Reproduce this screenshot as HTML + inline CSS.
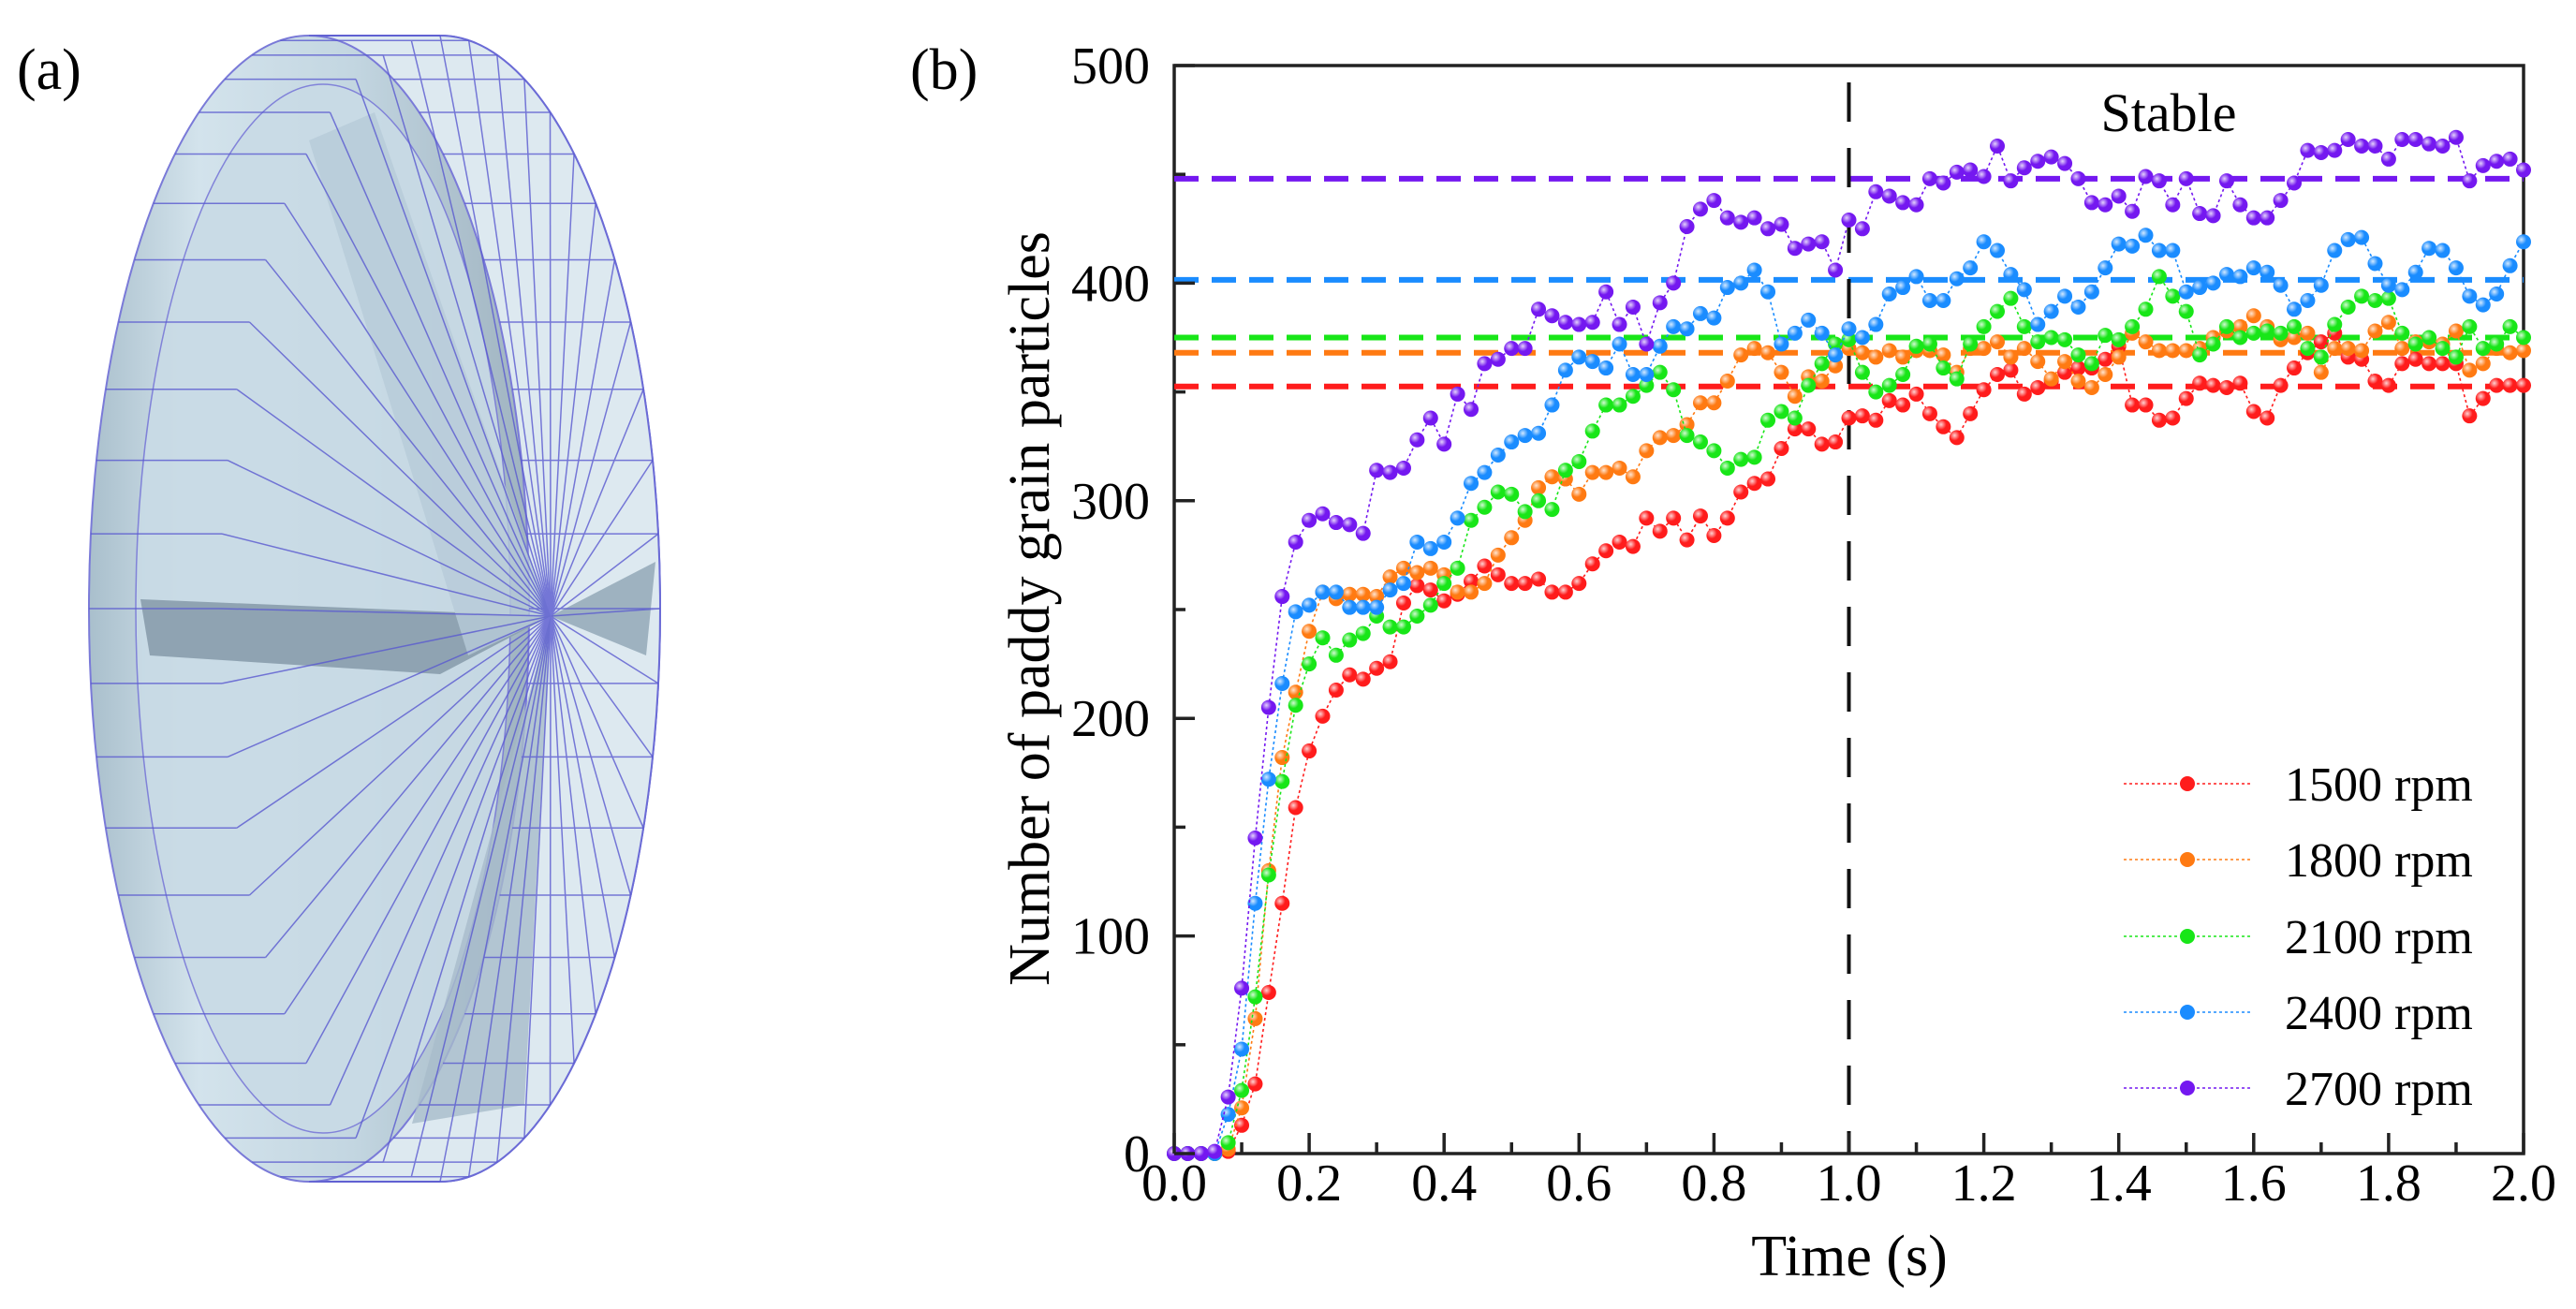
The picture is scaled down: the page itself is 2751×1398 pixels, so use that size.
<!DOCTYPE html>
<html><head><meta charset="utf-8"><style>
html,body{margin:0;padding:0;background:#fff;}
svg{display:block;font-family:"Liberation Serif",serif;}
</style></head><body>
<svg id="fig" width="2751" height="1398" viewBox="0 0 2751 1398" xmlns="http://www.w3.org/2000/svg">
<defs>
<linearGradient id="faceG" x1="0" y1="0" x2="1" y2="0">
<stop offset="0" stop-color="#a9bfcc"/><stop offset="0.25" stop-color="#d3e3ec"/><stop offset="0.6" stop-color="#c3d6e1"/><stop offset="1" stop-color="#9fb3c0"/></linearGradient>
<radialGradient id="ball" cx="0.35" cy="0.35" r="0.7"><stop offset="0" stop-color="#fff" stop-opacity="0.8"/><stop offset="0.5" stop-color="#fff" stop-opacity="0"/></radialGradient>
</defs>
<g id="panelA">
<text x="18" y="95" font-size="62">(a)</text>
<ellipse cx="470" cy="650" rx="235" ry="612" fill="none" stroke="#6b6bd6" stroke-width="2"/>
<path d="M330 38 L470 38 A235 612 0 0 1 470 1262 L330 1262 Z" fill="#dde9f0" stroke="#6b6bd6" stroke-width="2"/>
<ellipse cx="330" cy="650" rx="235" ry="612" fill="url(#faceG)" stroke="#7a7ad8" stroke-width="2"/>
<ellipse cx="345" cy="650" rx="200" ry="560" fill="#c9dbe6" stroke="#7a7ad8" stroke-width="1.5" opacity="0.9"/>
<polygon points="150,640 588,658 470,720 160,700" fill="#8fa3b2"/>
<polygon points="588,658 700,600 690,700" fill="#9eb2c0"/>
<polygon points="400,120 588,658 500,700 330,150" fill="#b7cbd8" opacity="0.8"/>
<polygon points="588,658 560,1180 440,1200" fill="#a8bccb" opacity="0.8"/>
<g id="spokes" stroke="#5a5ad0" stroke-width="1.5" opacity="0.8"></g>
</g>
<g id="chart">
<text x="972" y="95" font-size="62">(b)</text>
</g>
</svg>
<script>
const NS="http://www.w3.org/2000/svg";
function mk(tag,attrs,parent){const e=document.createElementNS(NS,tag);for(const k in attrs)e.setAttribute(k,attrs[k]);parent.appendChild(e);return e;}
const sp=document.getElementById('spokes');
for(let i=0;i<48;i++){const a=i/48*Math.PI*2;
const l=mk('line',{x1:588,y1:658,x2:470+235*Math.cos(a),y2:650+612*Math.sin(a)},sp);


const l2=mk('line',{x1:330+235*Math.cos(a),y1:650+612*Math.sin(a),x2:470+235*Math.cos(a),y2:650+612*Math.sin(a)},sp);

}

const seriesNames=["1500 rpm","1800 rpm","2100 rpm","2400 rpm","2700 rpm"];
const seriesColors=["#ff1c1c","#ff7a12","#18e618","#1a8cff","#7418f0"];
const meanValues=[352.5,368,375,401.5,448];
const xTicks=["0.0","0.2","0.4","0.6","0.8","1.0","1.2","1.4","1.6","1.8","2.0"];
const yTicks=["0","100","200","300","400","500"];
const timeStep=0.02;
const s1500=[0,0,0,0,1,13,32,74,115,159,185,201,213,220,218,223,226,253,261,259,254,257,263,270,266,262,262,264,258,258,262,271,277,281,279,292,286,292,282,293,284,292,304,308,310,324,333,333,326,327,
338,339,337,346,344,349,340,334,329,340,351,358,360,349,352,355,359,361,361,365,371,344,344,337,338,347,354,353,352,354,341,338,353,361,368,373,377,366,365,355,353,363,365,363,363,363,339,347,353,353,353];
const s1800=[0,0,0,0,2,21,62,130,182,212,240,258,255,257,257,256,265,269,267,269,266,258,258,262,275,283,291,306,311,310,303,313,313,315,311,323,329,330,335,345,345,355,367,370,368,359,348,357,355,362,
370,368,366,369,366,369,369,367,359,370,370,373,366,370,364,356,364,355,352,358,366,377,373,369,369,369,370,375,378,380,385,380,374,375,377,359,370,370,369,378,382,370,373,373,372,378,360,363,370,368,369];
const s2100=[0,0,0,0,5,29,72,128,171,206,225,237,229,236,239,247,242,242,247,252,262,269,291,297,304,303,295,300,296,314,318,332,344,344,348,353,359,351,330,327,323,315,319,320,337,341,338,353,363,372,
374,359,350,353,358,371,372,361,356,372,380,387,393,380,373,375,374,367,363,376,374,380,388,403,394,387,367,372,380,375,377,378,377,380,370,366,381,389,394,392,393,377,372,375,370,366,380,370,372,380,375];
const s2400=[0,0,0,0,18,48,115,172,216,249,252,258,258,251,251,251,259,262,281,278,281,292,308,313,321,327,330,331,344,360,366,364,361,372,358,358,371,380,379,386,384,398,400,406,396,372,377,383,377,367,
379,375,381,395,398,403,392,392,402,407,419,415,404,397,381,387,394,389,396,407,418,417,422,415,415,396,398,400,404,403,407,405,399,388,392,399,415,420,421,409,399,397,405,416,415,407,394,390,395,408,419];
const s2700=[0,0,0,1,26,76,145,205,256,281,291,294,290,289,285,314,313,315,328,338,326,349,342,363,365,370,370,388,385,382,381,382,396,381,389,372,391,400,426,434,438,430,428,430,425,427,416,418,419,406,
429,425,442,440,437,436,448,446,451,452,449,463,447,453,456,458,455,448,437,436,440,433,449,447,436,448,432,431,447,436,430,430,438,446,461,460,461,466,463,463,457,466,466,464,463,467,447,454,456,457,452];
const allSeries=[s1500,s1800,s2100,s2400,s2700];

const X0=1254,X1=2695,Y0=1232,Y1=70;
const xScale=t=>X0+(t/2)*(X1-X0);
const yScale=v=>Y0-(v/500)*(Y0-Y1);
const chart=document.getElementById('chart');

const fr=mk('rect',{x:X0,y:Y1,width:X1-X0,height:Y0-Y1,fill:"none",stroke:"#222",'stroke-width':3.5},chart);



meanValues.forEach((m,i)=>{const l=mk('line',{x1:X0,x2:X1,y1:yScale(m),y2:yScale(m),stroke:seriesColors[i],'stroke-width':6,'stroke-dasharray':'26 14'},chart);

});

const vb=mk('line',{x1:xScale(1),x2:xScale(1),y1:Y1+18,y2:Y0,stroke:"#111",'stroke-width':4,'stroke-dasharray':'42 28'},chart);


const st=mk('text',{x:2316,y:140,'font-size':58,'text-anchor':'middle'},chart);st.textContent="Stable";



allSeries.forEach((s,i)=>{
 const g=mk('g',{},chart);
 
 
 const pts=s.map((v,k)=>xScale(k*timeStep).toFixed(1)+","+yScale(v).toFixed(1)).join(" ");
 const pl=mk('polyline',{points:pts,fill:'none',stroke:seriesColors[i],'stroke-width':1.6,'stroke-dasharray':'3 3'},g);
 
 
 s.forEach((v,k)=>{const c=mk('circle',{cx:xScale(k*timeStep),cy:yScale(v),r:8,fill:seriesColors[i]},g);
 
 
 const h=mk('circle',{cx:xScale(k*timeStep),cy:yScale(v),r:8,fill:'url(#ball)'},g);
 
 });
});

for(let k=0;k<=20;k++){const t=k*0.1;const major=k%2===0;
 const tk=mk('line',{x1:xScale(t),x2:xScale(t),y1:Y0,y2:Y0-(major?22:12),stroke:'#222','stroke-width':3.5},chart);
 
 }
xTicks.forEach((lab,k)=>{const tx=mk('text',{x:xScale(k*0.2),y:1282,'font-size':56,'text-anchor':'middle'},chart);tx.textContent=lab;
 
 });
for(let k=0;k<=10;k++){const v=k*50;const major=k%2===0;
 const tk=mk('line',{x1:X0,x2:X0+(major?22:12),y1:yScale(v),y2:yScale(v),stroke:'#222','stroke-width':3.5},chart);
 
 }
yTicks.forEach((lab,k)=>{const tx=mk('text',{x:1228,y:yScale(k*100)+19,'font-size':56,'text-anchor':'end'},chart);tx.textContent=lab;
 
 });
const xt=mk('text',{x:1975,y:1362,'font-size':62,'text-anchor':'middle'},chart);xt.textContent="Time (s)";


const yt=mk('text',{x:0,y:0,'font-size':62,'text-anchor':'middle',transform:'translate(1120,650) rotate(-90)'},chart);yt.textContent="Number of paddy grain particles";



const legY=[837,918,1000,1081,1162];
seriesNames.forEach((n,i)=>{const g=mk('g',{},chart);
 
 
 const l=mk('line',{x1:2268,x2:2404,y1:legY[i],y2:legY[i],stroke:seriesColors[i],'stroke-width':1.6,'stroke-dasharray':'3 3'},g);
 
 
 const c=mk('circle',{cx:2336,cy:legY[i],r:8,fill:seriesColors[i]},g);
 
 
 const t=mk('text',{x:2440,y:legY[i]+18,'font-size':52},g);t.textContent=n;
 
 });
</script>
</body></html>
